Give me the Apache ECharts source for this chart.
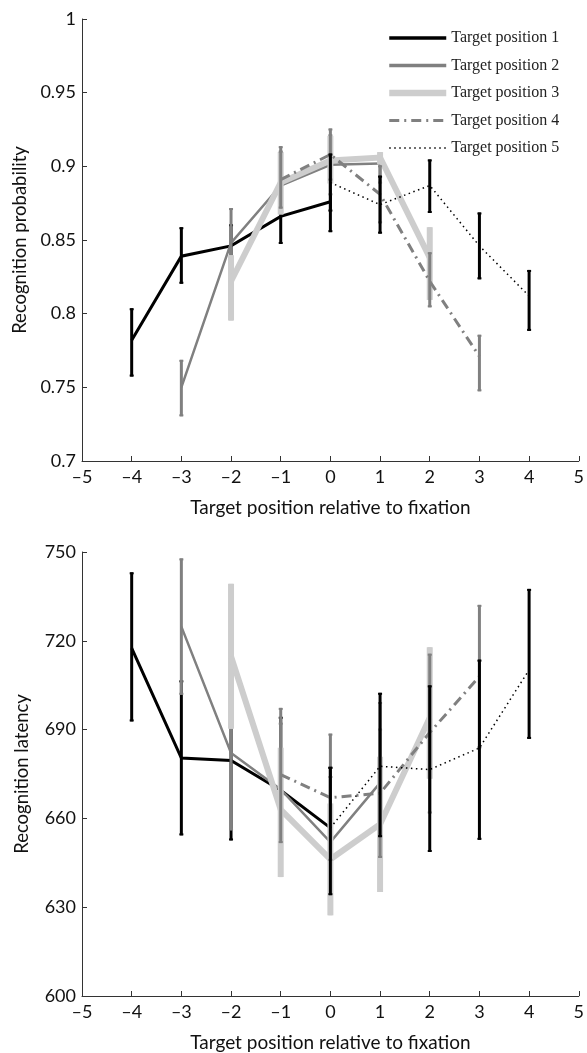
<!DOCTYPE html>
<html><head><meta charset="utf-8">
<script src="https://cdn.jsdelivr.net/npm/echarts@6/dist/echarts.min.js"></script>
<style>html,body{margin:0;padding:0;background:#fff}#c{width:587px;height:1053px}</style>
</head><body><div id="c"></div>
<script>
// ---- data ----
const seriesNames = ['Target position 1','Target position 2','Target position 3','Target position 4','Target position 5'];
const xTicks = [-5,-4,-3,-2,-1,0,1,2,3,4,5];

const x1 = [-4,-3,-2,-1,0];
const x2 = [-3,-2,-1,0,1];
const x3 = [-2,-1,0,1,2];
const x4 = [-1,0,1,2,3];
const x5 = [0,1,2,3,4];

// Recognition probability
const prob1 = [0.782,0.839,0.846,0.866,0.876];
const prob1Lo = [0.758,0.821,0.832,0.848,0.856];
const prob1Hi = [0.803,0.858,0.860,0.885,0.917];
const prob2 = [0.750,0.848,0.887,0.901,0.902];
const prob2Lo = [0.731,0.827,0.869,0.881,0.889];
const prob2Hi = [0.768,0.871,0.913,0.921,0.905];
const prob3 = [0.822,0.889,0.904,0.906,0.838];
const prob3Lo = [0.796,0.868,0.889,0.902,0.810];
const prob3Hi = [0.839,0.909,0.920,0.909,0.858];
const prob4 = [0.891,0.908,0.881,0.822,0.771];
const prob4Lo = [0.872,0.891,0.862,0.805,0.748];
const prob4Hi = [0.910,0.925,0.900,0.841,0.785];
const prob5 = [0.889,0.874,0.887,0.846,0.812];
const prob5Lo = [0.870,0.855,0.869,0.824,0.789];
const prob5Hi = [0.908,0.893,0.904,0.868,0.829];

// Recognition latency
const lat1 = [717.5,680.4,679.6,669.5,656.8];
const lat1Lo = [693.1,654.6,652.9,645.0,634.4];
const lat1Hi = [742.8,706.3,706.0,694.0,677.1];
const lat2 = [724.8,682.1,669.8,652.0,672.0];
const lat2Lo = [702.1,656.3,648.0,630.0,645.0];
const lat2Hi = [747.5,708.0,692.0,674.0,699.0];
const lat3 = [714.7,663.0,646.2,658.0,694.0];
const lat3Lo = [690.6,640.5,627.6,635.5,673.7];
const lat3Hi = [738.9,683.5,664.7,680.5,717.5];
const lat4 = [674.8,667.0,668.5,689.0,708.0];
const lat4Lo = [652.0,646.0,647.0,662.0,684.0];
const lat4Hi = [697.0,688.3,690.0,715.3,731.8];
const lat5 = [656.8,677.6,676.5,683.8,710.2];
const lat5Lo = [634.4,654.0,649.0,653.1,687.2];
const lat5Hi = [677.1,702.1,704.6,713.3,737.2];

// ---- styles ----
const styles = [
  {color:'#000000', width:3, type:'solid', ebw:3},
  {color:'#808080', width:2.5, type:'solid', ebw:3},
  {color:'#cdcdcd', width:6, type:'solid', ebw:6},
  {color:'#808080', width:3, type:[10,5,2,5], ebw:3},
  {color:'#000000', width:1.5, type:[1.5,3.5], ebw:3}
];
const legendWidths = [3.5, 3.5, 6.5, 3, 1.5];

const xs = [x1,x2,x3,x4,x5];
const probM = [prob1,prob2,prob3,prob4,prob5];
const probL = [prob1Lo,prob2Lo,prob3Lo,prob4Lo,prob5Lo];
const probH = [prob1Hi,prob2Hi,prob3Hi,prob4Hi,prob5Hi];
const latM = [lat1,lat2,lat3,lat4,lat5];
const latL = [lat1Lo,lat2Lo,lat3Lo,lat4Lo,lat5Lo];
const latH = [lat1Hi,lat2Hi,lat3Hi,lat4Hi,lat5Hi];

function ebRender(color, w){
  return function(params, api){
    const x = api.value(0), lo = api.value(1), hi = api.value(2);
    const a = api.coord([x, hi]), b = api.coord([x, lo]);
    const st = {stroke: color, lineWidth: w};
    return {type:'group', children:[
      {type:'line', shape:{x1:a[0],y1:a[1]-1,x2:b[0],y2:b[1]+1}, style:st},
      {type:'line', shape:{x1:a[0]-2,y1:a[1],x2:a[0]+2,y2:a[1]}, style:{stroke:color,lineWidth:2}},
      {type:'line', shape:{x1:b[0]-2,y1:b[1],x2:b[0]+2,y2:b[1]}, style:{stroke:color,lineWidth:2}}
    ]};
  };
}

const series = [];
function addChart(idx, M, L, H){
  for (let s=0; s<5; s++){
    const st = styles[s];
    series.push({
      type:'custom', name:'eb'+idx+'_'+s, xAxisIndex:idx, yAxisIndex:idx,
      renderItem: ebRender(st.color, st.ebw), silent:true, z:2+s,
      data: xs[s].map((x,i)=>[x, L[s][i], H[s][i]]),
      encode:{x:0, y:[1,2]}
    });
    series.push({
      type:'line', name: idx===0 ? seriesNames[s] : seriesNames[s]+' ', xAxisIndex:idx, yAxisIndex:idx,
      symbol:'none', z:2+s, silent:true, animation:false,
      lineStyle:{color:st.color, width:st.width, type:st.type, cap:'butt', join:'miter'},
      itemStyle:{color:st.color},
      data: xs[s].map((x,i)=>[x, M[s][i]])
    });
  }
}
addChart(0, probM, probL, probH);
addChart(1, latM, latL, latH);

const axisCol = '#333';
const tickFont = {fontFamily:'Lato', fontSize:18, color:'#111'};
function xAxisCfg(i){
  return {
    type:'value', gridIndex:i, min:-5, max:5, interval:1,
    name:'Target position relative to fixation', nameLocation:'middle', nameGap:37,
    nameTextStyle:{fontFamily:'Lato', fontSize:19, color:'#111'},
    axisLine:{show:true, onZero:false, lineStyle:{color:axisCol, width:1}},
    axisTick:{show:true, inside:true, length:5, lineStyle:{color:axisCol}},
    splitLine:{show:false},
    axisLabel:Object.assign({margin:7,
      formatter: v => v<0 ? '\u2013'+Math.abs(v) : String(v)}, tickFont)
  };
}
function yAxisCfg(i, min, max, interval, name, fmt){
  return {type:'value', gridIndex:i, min:min, max:max, interval:interval,
     name:name, nameLocation:'middle', nameGap:50,
     nameTextStyle:{fontFamily:'Lato', fontSize:18.5, color:'#111'},
     axisLine:{show:true, onZero:false, lineStyle:{color:axisCol}},
     axisTick:{show:true, inside:true, length:5, lineStyle:{color:axisCol}},
     splitLine:{show:false},
     axisLabel:Object.assign({margin:6, formatter: fmt}, tickFont)};
}

const option = {
  animation:false,
  backgroundColor:'#fff',
  grid:[
    {left:82, right:5, top:19, height:442},
    {left:82, right:5, top:552, height:445}
  ],
  legend:{
    data: seriesNames.map((n,i)=>({name:n, lineStyle:{width:legendWidths[i]}, itemStyle:{opacity:0}})),
    orient:'vertical', left:381, top:25, padding:5,
    itemWidth:57, itemHeight:14, itemGap:11.5,
    itemStyle:{opacity:0},
    textStyle:{fontFamily:'Liberation Serif', fontSize:16, color:'#222'},
    selectedMode:false
  },
  xAxis:[xAxisCfg(0), xAxisCfg(1)],
  yAxis:[
    yAxisCfg(0, 0.7, 1, 0.05, 'Recognition probability', v => String(Math.round(v*100)/100)),
    yAxisCfg(1, 600, 750, 30, 'Recognition latency', v => String(v))
  ],
  series: series
};
const chart = echarts.init(document.getElementById('c'), null, {renderer:'canvas'});
chart.setOption(option);
</script>
</body></html>
